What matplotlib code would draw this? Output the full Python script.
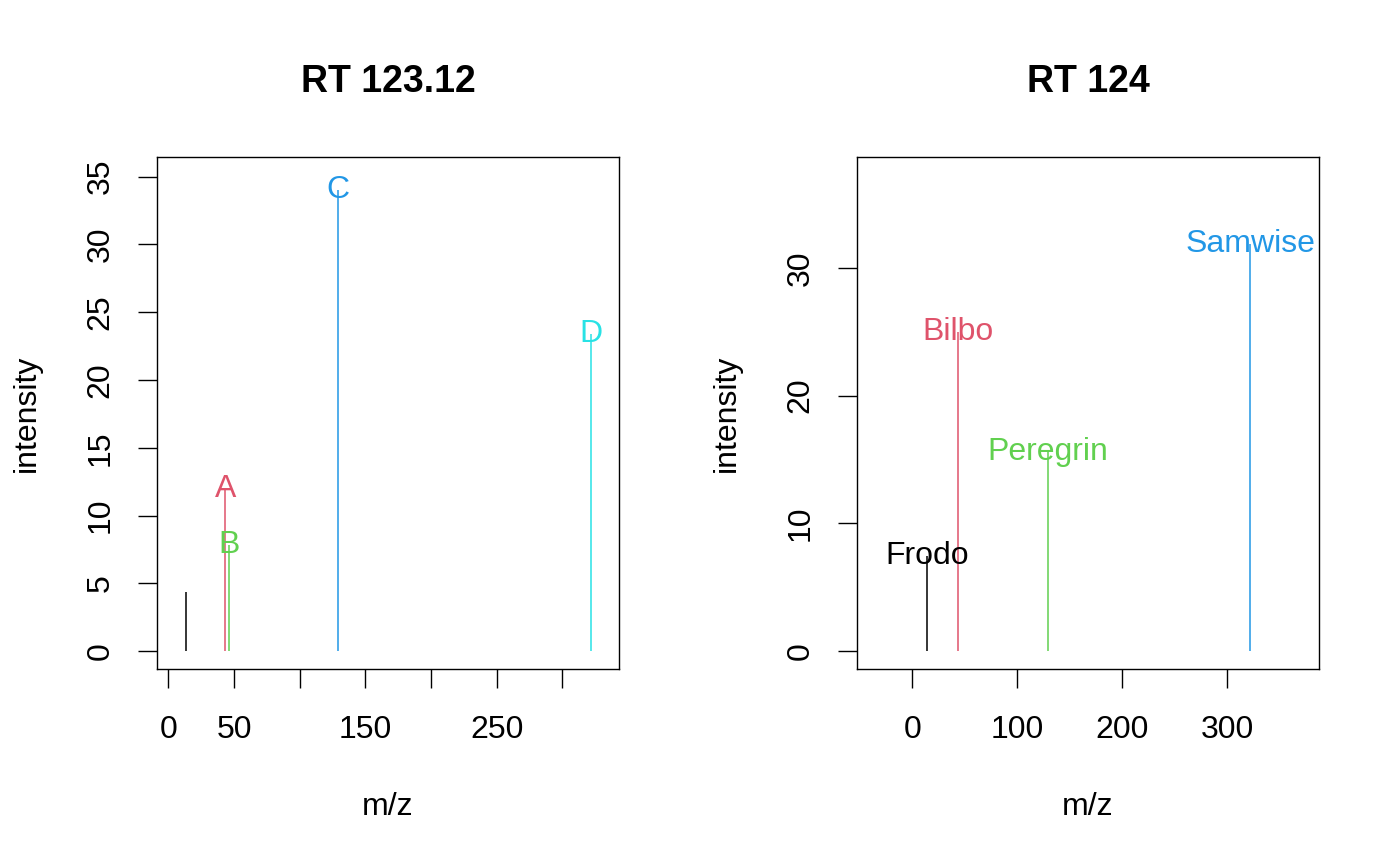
import matplotlib
matplotlib.use("Agg")
import matplotlib.pyplot as plt

# ---------------- data ----------------
# left spectrum (RT 123.12)
mz_left = [13.5, 43.4, 46.4, 128.9, 321.5]
int_left = [4.4, 12.0, 7.8, 34.0, 23.4]
lab_left = ["", "A", "B", "C", "D"]
col_left = ["black", "#DF536B", "#61D04F", "#2297E6", "#28E2E5"]

# right spectrum (RT 124)
mz_right = [13.7, 43.2, 129.2, 321.6]
int_right = [7.4, 25.0, 15.6, 31.9]
lab_right = ["Frodo", "Bilbo", "Peregrin", "Samwise"]
col_right = ["black", "#DF536B", "#61D04F", "#2297E6"]

titles = ["RT 123.12", "RT 124"]

xticks_left = [0, 50, 100, 150, 200, 250, 300]
xticklabels_left = ["0", "50", "", "150", "", "250", ""]
yticks_left = [0, 5, 10, 15, 20, 25, 30, 35]
xticks_right = [0, 100, 200, 300]
yticks_right = [0, 10, 20, 30]

plt.rcParams["font.family"] = ["Liberation Sans", "DejaVu Sans"]
FS = 23

fig = plt.figure(figsize=(14, 8.66), dpi=100)
ax1 = fig.add_axes([157 / 1400, 1 - 669 / 866, 462 / 1400, 512 / 866])
ax2 = fig.add_axes([857 / 1400, 1 - 669 / 866, 462 / 1400, 512 / 866])


def spectrum(ax, mz, inten, labs, cols, title):
    ax.vlines(mz, 0, inten, colors=cols, linewidth=1.1)
    for x, y, t, c in zip(mz, inten, labs, cols):
        if t:
            ax.text(x, y, t, color=c, fontsize=FS, ha="center", va="center")
    ax.set_title(title, fontsize=27, fontweight="bold", y=1.146, pad=0,
                 verticalalignment="center")
    ax.set_xlabel("m/z", fontsize=FS)
    ax.set_ylabel("intensity", fontsize=FS)
    ax.xaxis.set_label_coords(0.5, -0.2695)
    ax.xaxis.label.set_verticalalignment("center")
    ax.yaxis.set_label_coords(-0.281, 0.5)
    ax.yaxis.label.set_verticalalignment("center")
    ax.tick_params(direction="out", length=14, width=1.0, pad=16,
                   labelsize=FS)
    ax.tick_params(axis="x", pad=19)
    ax.tick_params(axis="y", labelrotation=90)
    for s in ax.spines.values():
        s.set_linewidth(1.0)


spectrum(ax1, mz_left, int_left, lab_left, col_left, titles[0])
ax1.set_xlim(-8.6, 343)
ax1.set_ylim(-1.31, 36.45)
ax1.set_xticks(xticks_left)
ax1.set_xticklabels(xticklabels_left)
ax1.set_yticks(yticks_left)
for lbl in ax1.get_yticklabels():
    lbl.set_verticalalignment("center")

spectrum(ax2, mz_right, int_right, lab_right, col_right, titles[1])
ax2.set_xlim(-52.7, 387.3)
ax2.set_ylim(-1.44, 38.7)
ax2.set_xticks(xticks_right)
ax2.set_yticks(yticks_right)
for lbl in ax2.get_yticklabels():
    lbl.set_verticalalignment("center")

fig.savefig("out.png", dpi=100)
